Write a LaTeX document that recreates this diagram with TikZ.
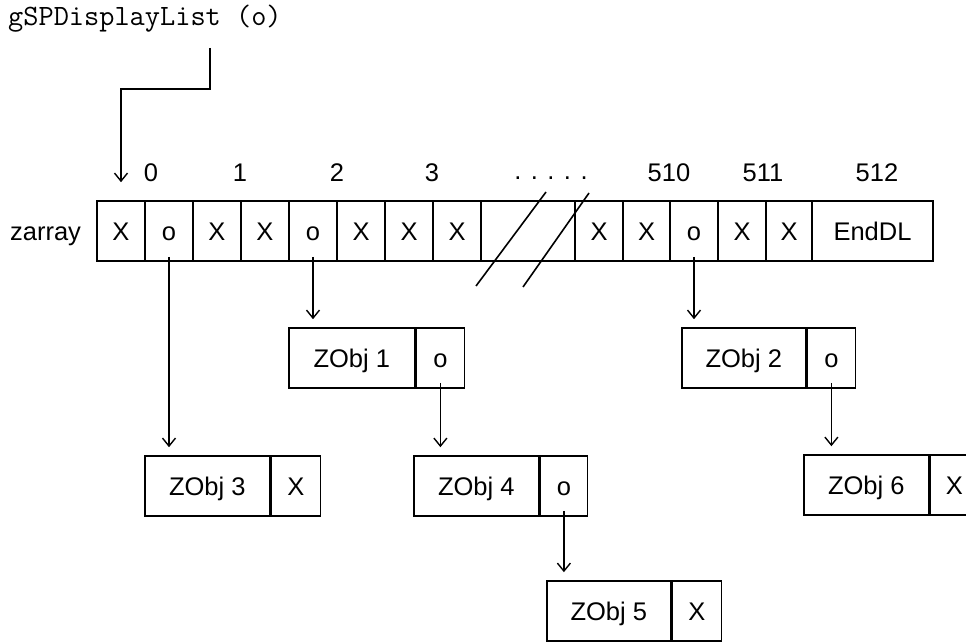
\documentclass[tikz,border=0pt]{standalone}
\usepackage{fontspec}
\setmainfont{Liberation Sans}
\usetikzlibrary{arrows.meta,calc}
\begin{document}
\begin{tikzpicture}[x=1pt,y=-1pt,
  txt/.style={font=\fontsize{25.5}{30}\selectfont},
  cell/.style={draw, line width=1.6pt, minimum height=60pt, inner sep=0pt, text height=18.5pt, text depth=0pt, txt},
  ptr/.style={line width=1.4pt, -{Straight Barb[length=8pt,width=13pt,line width=1.4pt]}},
  lbl/.style={txt, anchor=base, inner sep=0pt}]
\useasboundingbox (0,0) rectangle (966,642);
% title
\node[anchor=west, inner sep=0pt, font=\ttfamily\fontsize{29.5}{32}\selectfont] (title) at (8,19) {gSPDisplayList (o)};
% array cells
\node[cell,minimum width=48pt] (c0) at (121,231) {X};
\node[cell,minimum width=48pt] (c1) at (169,231) {o};
\node[cell,minimum width=48pt] (c2) at (217,231) {X};
\node[cell,minimum width=48pt] (c3) at (265,231) {X};
\node[cell,minimum width=48pt] (c4) at (313,231) {o};
\node[cell,minimum width=48pt] (c5) at (361,231) {X};
\node[cell,minimum width=48pt] (c6) at (409,231) {X};
\node[cell,minimum width=48pt] (c7) at (457,231) {X};
\node[cell,minimum width=94pt] (c8) at (528,231) {};
\node[cell,minimum width=48pt] (c9) at (599,231) {X};
\node[cell,minimum width=47pt] (c10) at (646.5,231) {X};
\node[cell,minimum width=48pt] (c11) at (694,231) {o};
\node[cell,minimum width=48pt] (c12) at (742,231) {X};
\node[cell,minimum width=46pt] (c13) at (789,231) {X};
\node[cell,minimum width=121pt] (c14) at (872.5,231) {EndDL};
% break marks
\draw[line width=1.6pt] (476,286) -- (546,192);
\draw[line width=1.6pt] (523,287) -- (589,193);
% array name
\node[txt, anchor=east, inner sep=0pt, text height=18.5pt, text depth=0pt] (za) at ([xshift=-15pt]c0.west) {zarray};
% index labels
\node[lbl] (i0) at (151,181) {0};
\node[lbl] (i1) at (240,181) {1};
\node[lbl] (i2) at (337,181) {2};
\node[lbl] (i3) at (432,181) {3};
\node[lbl] (idots) at (551,179) {. . . . .};
\node[lbl] (i510) at (669,181) {510};
\node[lbl] (i511) at (763,181) {511};
\node[lbl] (i512) at (877,181) {512};
% ZObj records
\node[cell,minimum width=126pt,anchor=west] (z1a) at (288,358) {ZObj 1};
\node[cell,minimum width=48pt,anchor=west] (z1b) at (z1a.east) {o};
\node[cell,minimum width=124pt,anchor=west] (z2a) at (681,358) {ZObj 2};
\node[cell,minimum width=48pt,anchor=west] (z2b) at (z2a.east) {o};
\node[cell,minimum width=125pt,anchor=west] (z3a) at (144,486) {ZObj 3};
\node[cell,minimum width=49pt,anchor=west] (z3b) at (z3a.east) {X};
\node[cell,minimum width=125pt,anchor=west] (z4a) at (413,486) {ZObj 4};
\node[cell,minimum width=47pt,anchor=west] (z4b) at (z4a.east) {o};
\node[cell,minimum width=124pt,anchor=west] (z5a) at (546,611) {ZObj 5};
\node[cell,minimum width=49pt,anchor=west] (z5b) at (z5a.east) {X};
\node[cell,minimum width=125pt,anchor=west] (z6a) at (803,485) {ZObj 6};
\node[cell,minimum width=48pt,anchor=west] (z6b) at (z6a.east) {X};
% title pointer
\coordinate (t0) at (210,48);
\coordinate (t1) at (210,89);
\draw[ptr, shorten >=18pt] (t0) -- (t1) -| (c0.north);
% pointers
\draw[ptr, shorten >=8pt] ([yshift=5pt]c1.south) -- (c1.south |- z3a.north);
\draw[ptr, shorten >=8pt] ([yshift=5pt]c4.south) -- (c4.south |- z1a.north);
\draw[ptr, shorten >=8pt] ([yshift=5pt]c11.south) -- (c11.south |- z2a.north);
\draw[ptr, shorten >=8pt] ([yshift=6pt]z1b.south) -- (z1b.south |- z4a.north);
\draw[ptr, shorten >=8pt] ([yshift=6pt]z4b.south) -- (z4b.south |- z5a.north);
\draw[ptr, shorten >=8pt] ([yshift=6pt]z2b.south) -- (z2b.south |- z6a.north);
\end{tikzpicture}
\end{document}
